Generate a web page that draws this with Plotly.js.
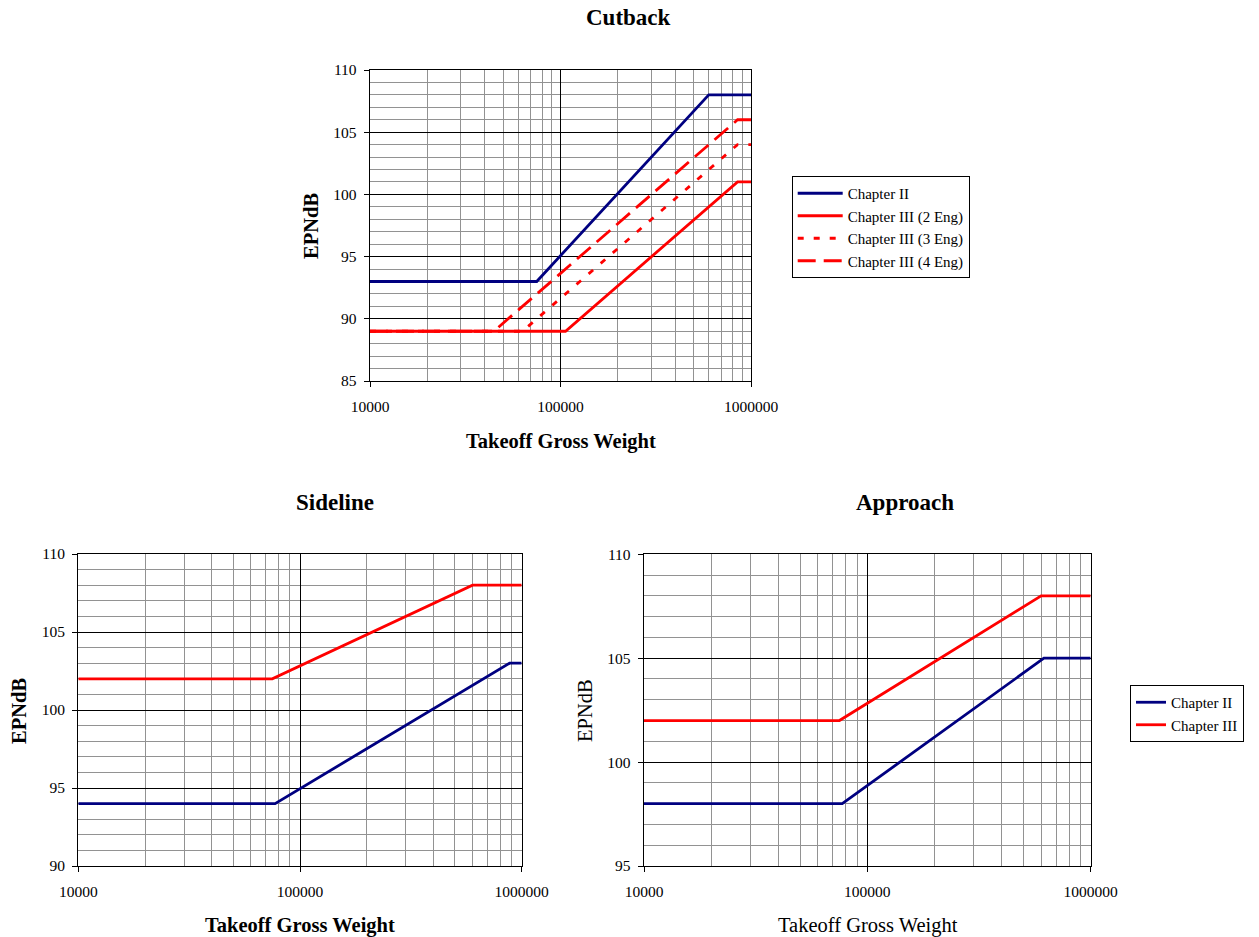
<!DOCTYPE html>
<html>
<head>
<meta charset="utf-8">
<script src="https://cdn.plot.ly/plotly-3.0.1.min.js"></script>
<style>html,body{margin:0;padding:0;background:#fff}#chart{width:1259px;height:937px}</style>
</head>
<body>
<div id="chart"></div>
<script>
// ---- Data (Takeoff Gross Weight vs EPNdB limits) ----
const cutbackCh2X = [10000, 75000, 600000, 1000000];
const cutbackCh2Y = [93, 93, 108, 108];
const cutbackCh3Eng2X = [10000, 106250, 850000, 1000000];
const cutbackCh3Eng2Y = [89, 89, 101, 101];
const cutbackCh3Eng3X = [10000, 63177, 850000, 1000000];
const cutbackCh3Eng3Y = [89, 89, 104, 104];
const cutbackCh3Eng4X = [10000, 44673, 850000, 1000000];
const cutbackCh3Eng4Y = [89, 89, 106, 106];

const sidelineRedX = [10000, 75000, 600000, 1000000];
const sidelineRedY = [102, 102, 108, 108];
const sidelineBlueX = [10000, 77200, 882000, 1000000];
const sidelineBlueY = [94, 94, 103, 103];

const approachCh2X = [10000, 77200, 617300, 1000000];
const approachCh2Y = [98, 98, 105, 105];
const approachCh3X = [10000, 75000, 600000, 1000000];
const approachCh3Y = [102, 102, 108, 108];

const xTickVals = [10000, 100000, 1000000];
const xTickText = ['10000', '100000', '1000000'];
const xMinorVals = [20000,30000,40000,50000,60000,70000,80000,90000,200000,300000,400000,500000,600000,700000,800000,900000];

const NAVY = '#000080', RED = '#FF0000';
const FONT = '"Liberation Serif", "Times New Roman", serif';
const W = 1259, H = 937;

function px(x){ return x / W; }
function py(y){ return 1 - y / H; }

function xaxisDef(dom, anchor){
  return {
    type: 'log', range: [4, 6], domain: dom, anchor: anchor,
    tickmode: 'array', tickvals: xTickVals, ticktext: xTickText,
    ticks: 'outside', ticklen: 5, tickcolor: '#000', tickwidth: 1,
    ticklabelstandoff: 6,
    showgrid: true, gridcolor: '#000', gridwidth: 1,
    minor: { tickmode: 'array', tickvals: xMinorVals, showgrid: true, gridcolor: '#929292', gridwidth: 1, ticks: '' },
    showline: true, linecolor: '#000', linewidth: 1.3, mirror: true,
    zeroline: false, tickfont: { family: FONT, size: 15.5, color: '#000' },
    fixedrange: true
  };
}
function yaxisDef(dom, anchor, lo, hi){
  return {
    range: [lo, hi], domain: dom, anchor: anchor,
    dtick: 5, tick0: 0,
    ticks: 'outside', ticklen: 5, tickcolor: '#000', tickwidth: 1,
    ticklabelstandoff: 4,
    showgrid: true, gridcolor: '#000', gridwidth: 1,
    minor: { dtick: 1, tick0: 0, showgrid: true, gridcolor: '#929292', gridwidth: 1, ticks: '' },
    showline: true, linecolor: '#000', linewidth: 1.3, mirror: true,
    zeroline: false, tickfont: { family: FONT, size: 15.5, color: '#000' },
    fixedrange: true
  };
}

const traces = [
  { x: cutbackCh2X, y: cutbackCh2Y, xaxis: 'x', yaxis: 'y', mode: 'lines', name: 'Chapter II',
    line: { color: NAVY, width: 2.8 }, legend: 'legend' },
  { x: cutbackCh3Eng2X, y: cutbackCh3Eng2Y, xaxis: 'x', yaxis: 'y', mode: 'lines', name: 'Chapter III (2 Eng)',
    line: { color: RED, width: 2.8 }, legend: 'legend' },
  { x: cutbackCh3Eng3X, y: cutbackCh3Eng3Y, xaxis: 'x', yaxis: 'y', mode: 'lines', name: 'Chapter III (3 Eng)',
    line: { color: RED, width: 2.8, dash: '6px,10px' }, legend: 'legend' },
  { x: cutbackCh3Eng4X, y: cutbackCh3Eng4Y, xaxis: 'x', yaxis: 'y', mode: 'lines', name: 'Chapter III (4 Eng)',
    line: { color: RED, width: 2.8, dash: '18px,8px' }, legend: 'legend' },

  { x: sidelineRedX, y: sidelineRedY, xaxis: 'x2', yaxis: 'y2', mode: 'lines', name: 'Chapter II',
    line: { color: RED, width: 2.8 }, showlegend: false },
  { x: sidelineBlueX, y: sidelineBlueY, xaxis: 'x2', yaxis: 'y2', mode: 'lines', name: 'Chapter III',
    line: { color: NAVY, width: 2.8 }, showlegend: false },

  { x: approachCh2X, y: approachCh2Y, xaxis: 'x3', yaxis: 'y3', mode: 'lines', name: 'Chapter II',
    line: { color: NAVY, width: 2.8 }, legend: 'legend2' },
  { x: approachCh3X, y: approachCh3Y, xaxis: 'x3', yaxis: 'y3', mode: 'lines', name: 'Chapter III',
    line: { color: RED, width: 2.8 }, legend: 'legend2' }
];

function ann(text, x, y, size, bold, angle){
  return { text: bold ? '<b>' + text + '</b>' : text, x: px(x), y: py(y), xref: 'paper', yref: 'paper',
    xanchor: 'center', yanchor: 'middle', showarrow: false, textangle: angle || 0,
    font: { family: FONT, size: size, color: '#000' } };
}

const layout = {
  width: W, height: H,
  margin: { l: 0, r: 0, t: 0, b: 0 },
  paper_bgcolor: '#fff', plot_bgcolor: '#fff',
  font: { family: FONT, color: '#000' },
  xaxis: xaxisDef([px(370), px(751)], 'y'),
  yaxis: yaxisDef([py(381), py(70)], 'x', 85, 110),
  xaxis2: xaxisDef([px(78.3), px(521.7)], 'y2'),
  yaxis2: yaxisDef([py(866), py(554)], 'x2', 90, 110),
  xaxis3: xaxisDef([px(644), px(1090.7)], 'y3'),
  yaxis3: yaxisDef([py(866), py(554.3)], 'x3', 95, 110),
  legend: { x: px(791.7), y: py(176), xanchor: 'left', yanchor: 'top',
    bordercolor: '#000', borderwidth: 1, bgcolor: '#fff', itemwidth: 45, tracegroupgap: 0,
    font: { family: FONT, size: 15, color: '#000' } },
  legend2: { x: px(1130), y: py(685), xanchor: 'left', yanchor: 'top',
    bordercolor: '#000', borderwidth: 1, bgcolor: '#fff', itemwidth: 30, tracegroupgap: 0,
    font: { family: FONT, size: 15, color: '#000' } },
  annotations: [
    ann('Cutback', 628, 18, 23, true),
    ann('Takeoff Gross Weight', 561, 441, 20.5, true),
    ann('EPNdB', 311, 226, 20.5, true, -90),
    ann('Sideline', 335, 502, 23, true),
    ann('Takeoff Gross Weight', 300, 925, 20.5, true),
    ann('EPNdB', 19, 711, 20.5, true, -90),
    ann('Approach', 904.5, 502, 23, true),
    ann('Takeoff Gross Weight', 868, 925, 20.5, false),
    ann('EPNdB', 585, 711, 20.5, false, -90)
  ],
  showlegend: true
};

Plotly.newPlot('chart', traces, layout, { staticPlot: true, displayModeBar: false });
</script>
</body>
</html>
